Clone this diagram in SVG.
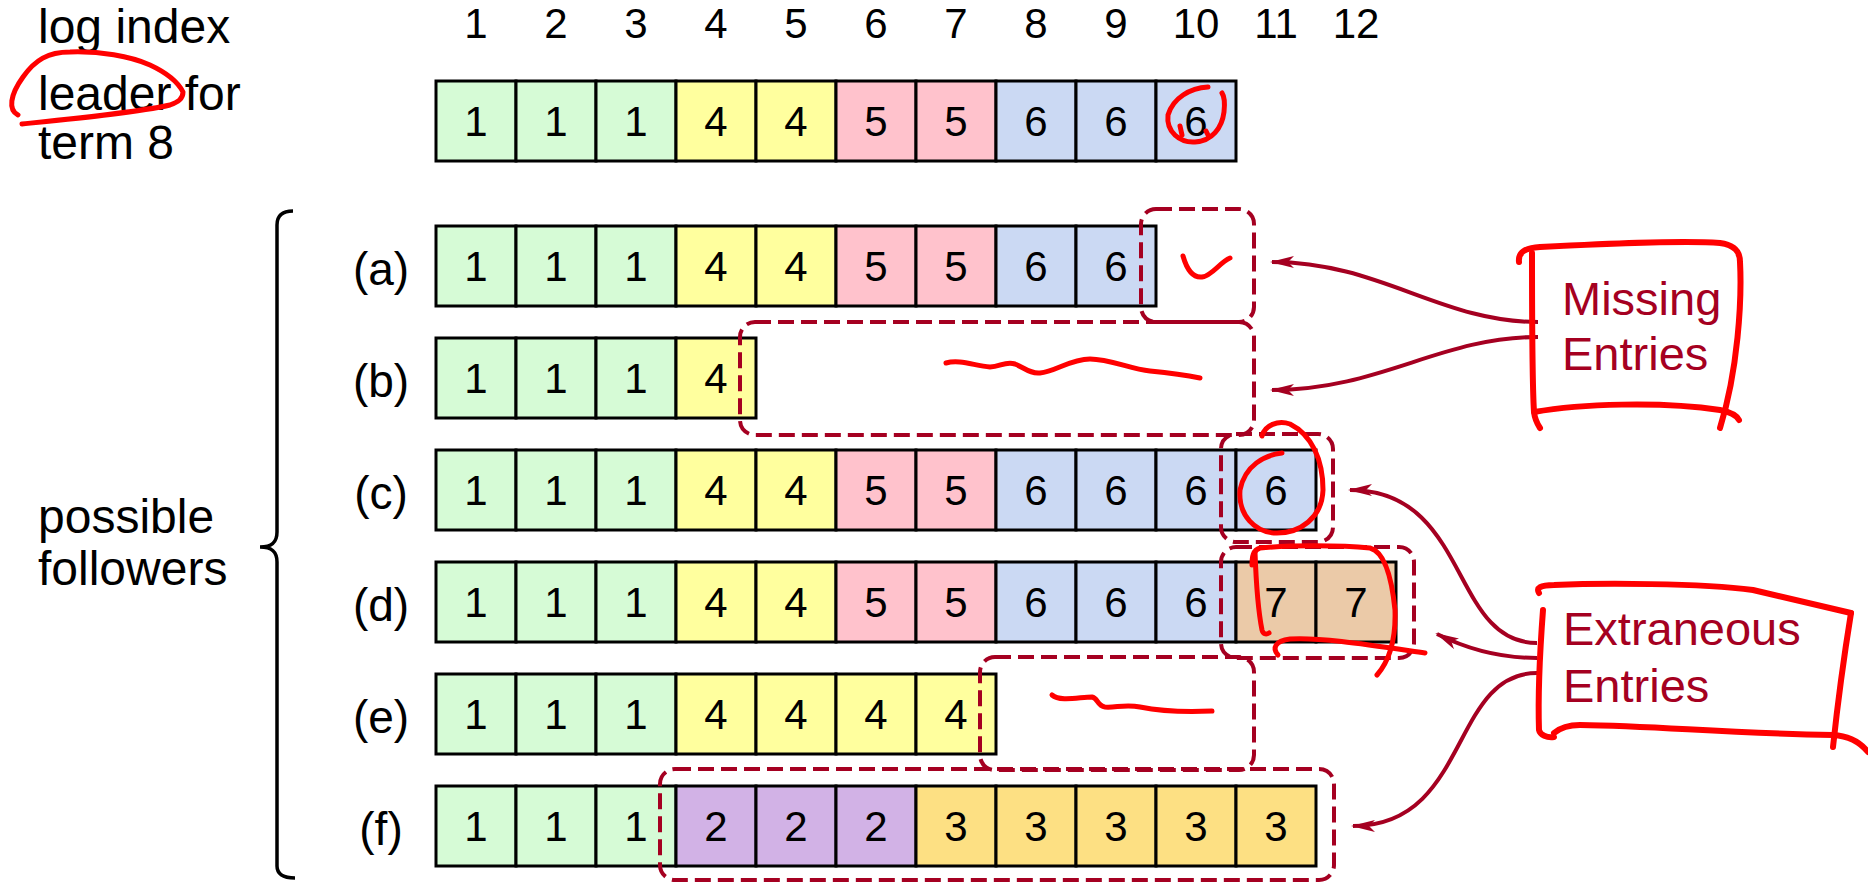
<svg xmlns="http://www.w3.org/2000/svg" width="1868" height="882" viewBox="0 0 1868 882">
<defs>
<style>
.c rect{stroke:#000;stroke-width:3}
.g{fill:#d6fbd6}.y{fill:#ffff9e}.p{fill:#ffc2cc}.b{fill:#cbd9f3}.o{fill:#ebcaa8}.v{fill:#d2b2e6}.k{fill:#fde083}
.n{font-family:"Liberation Sans",Arial,sans-serif;font-size:42px;fill:#000;text-anchor:middle}
.lab{font-family:"Liberation Sans",Arial,sans-serif;font-size:46px;fill:#000}
.big{font-size:48px}
.mid{text-anchor:middle}
.red{font-family:"Liberation Sans",Arial,sans-serif;font-size:47px;fill:#a50021}
.dash{fill:none;stroke:#a50021;stroke-width:4;stroke-dasharray:16 7}
.arr{fill:none;stroke:#a50021;stroke-width:4;marker-end:url(#ah)}
.ink{fill:none;stroke:#ff0000;stroke-width:5;stroke-linecap:round;stroke-linejoin:round}
.ink2{fill:none;stroke:#ff0000;stroke-width:6;stroke-linecap:round;stroke-linejoin:round}
</style>
<marker id="ah" viewBox="0 0 24 12" refX="22" refY="6" markerWidth="24" markerHeight="12" markerUnits="userSpaceOnUse" orient="auto">
<path d="M0,0 L24,6 L0,12 L6,6 z" fill="#a50021"/>
</marker>
</defs>
<rect width="1868" height="882" fill="#fff"/>

<g id="headers">
<text class="lab big" x="38" y="43">log index</text>
<text class="lab big" x="38" y="110">leader for</text>
<text class="lab big" x="38" y="159">term 8</text>
<text class="lab big" x="38" y="533">possible</text>
<text class="lab big" x="38" y="585">followers</text>
<g class="n">
<text x="476" y="38">1</text><text x="556" y="38">2</text><text x="636" y="38">3</text><text x="716" y="38">4</text><text x="796" y="38">5</text><text x="876" y="38">6</text><text x="956" y="38">7</text><text x="1036" y="38">8</text><text x="1116" y="38">9</text><text x="1196" y="38">10</text><text x="1276" y="38">11</text><text x="1356" y="38">12</text>
</g>
</g>

<g id="brace">
<path d="M293 211 C283 211 277 215 277 225 L277 532 C277 542 272 547 260 547 C272 547 277 552 277 562 L277 866 C277 874 283 878 295 878" fill="none" stroke="#000" stroke-width="3.5"/>
</g>

<g id="leader" class="c">
<rect class="g" x="436" y="81" width="80" height="80"/><rect class="g" x="516" y="81" width="80" height="80"/><rect class="g" x="596" y="81" width="80" height="80"/><rect class="y" x="676" y="81" width="80" height="80"/><rect class="y" x="756" y="81" width="80" height="80"/><rect class="p" x="836" y="81" width="80" height="80"/><rect class="p" x="916" y="81" width="80" height="80"/><rect class="b" x="996" y="81" width="80" height="80"/><rect class="b" x="1076" y="81" width="80" height="80"/><rect class="b" x="1156" y="81" width="80" height="80"/>
<g class="n"><text x="476" y="136">1</text><text x="556" y="136">1</text><text x="636" y="136">1</text><text x="716" y="136">4</text><text x="796" y="136">4</text><text x="876" y="136">5</text><text x="956" y="136">5</text><text x="1036" y="136">6</text><text x="1116" y="136">6</text><text x="1196" y="136">6</text></g>
</g>

<g id="row-a" class="c">
<text class="lab mid" x="381" y="285">(a)</text>
<rect class="g" x="436" y="226" width="80" height="80"/><rect class="g" x="516" y="226" width="80" height="80"/><rect class="g" x="596" y="226" width="80" height="80"/><rect class="y" x="676" y="226" width="80" height="80"/><rect class="y" x="756" y="226" width="80" height="80"/><rect class="p" x="836" y="226" width="80" height="80"/><rect class="p" x="916" y="226" width="80" height="80"/><rect class="b" x="996" y="226" width="80" height="80"/><rect class="b" x="1076" y="226" width="80" height="80"/>
<g class="n"><text x="476" y="281">1</text><text x="556" y="281">1</text><text x="636" y="281">1</text><text x="716" y="281">4</text><text x="796" y="281">4</text><text x="876" y="281">5</text><text x="956" y="281">5</text><text x="1036" y="281">6</text><text x="1116" y="281">6</text></g>
</g>

<g id="row-b" class="c">
<text class="lab mid" x="381" y="397">(b)</text>
<rect class="g" x="436" y="338" width="80" height="80"/><rect class="g" x="516" y="338" width="80" height="80"/><rect class="g" x="596" y="338" width="80" height="80"/><rect class="y" x="676" y="338" width="80" height="80"/>
<g class="n"><text x="476" y="393">1</text><text x="556" y="393">1</text><text x="636" y="393">1</text><text x="716" y="393">4</text></g>
</g>

<g id="row-c" class="c">
<text class="lab mid" x="381" y="509">(c)</text>
<rect class="g" x="436" y="450" width="80" height="80"/><rect class="g" x="516" y="450" width="80" height="80"/><rect class="g" x="596" y="450" width="80" height="80"/><rect class="y" x="676" y="450" width="80" height="80"/><rect class="y" x="756" y="450" width="80" height="80"/><rect class="p" x="836" y="450" width="80" height="80"/><rect class="p" x="916" y="450" width="80" height="80"/><rect class="b" x="996" y="450" width="80" height="80"/><rect class="b" x="1076" y="450" width="80" height="80"/><rect class="b" x="1156" y="450" width="80" height="80"/><rect class="b" x="1236" y="450" width="80" height="80"/>
<g class="n"><text x="476" y="505">1</text><text x="556" y="505">1</text><text x="636" y="505">1</text><text x="716" y="505">4</text><text x="796" y="505">4</text><text x="876" y="505">5</text><text x="956" y="505">5</text><text x="1036" y="505">6</text><text x="1116" y="505">6</text><text x="1196" y="505">6</text><text x="1276" y="505">6</text></g>
</g>

<g id="row-d" class="c">
<text class="lab mid" x="381" y="621">(d)</text>
<rect class="g" x="436" y="562" width="80" height="80"/><rect class="g" x="516" y="562" width="80" height="80"/><rect class="g" x="596" y="562" width="80" height="80"/><rect class="y" x="676" y="562" width="80" height="80"/><rect class="y" x="756" y="562" width="80" height="80"/><rect class="p" x="836" y="562" width="80" height="80"/><rect class="p" x="916" y="562" width="80" height="80"/><rect class="b" x="996" y="562" width="80" height="80"/><rect class="b" x="1076" y="562" width="80" height="80"/><rect class="b" x="1156" y="562" width="80" height="80"/><rect class="o" x="1236" y="562" width="80" height="80"/><rect class="o" x="1316" y="562" width="80" height="80"/>
<g class="n"><text x="476" y="617">1</text><text x="556" y="617">1</text><text x="636" y="617">1</text><text x="716" y="617">4</text><text x="796" y="617">4</text><text x="876" y="617">5</text><text x="956" y="617">5</text><text x="1036" y="617">6</text><text x="1116" y="617">6</text><text x="1196" y="617">6</text><text x="1276" y="617">7</text><text x="1356" y="617">7</text></g>
</g>

<g id="row-e" class="c">
<text class="lab mid" x="381" y="733">(e)</text>
<rect class="g" x="436" y="674" width="80" height="80"/><rect class="g" x="516" y="674" width="80" height="80"/><rect class="g" x="596" y="674" width="80" height="80"/><rect class="y" x="676" y="674" width="80" height="80"/><rect class="y" x="756" y="674" width="80" height="80"/><rect class="y" x="836" y="674" width="80" height="80"/><rect class="y" x="916" y="674" width="80" height="80"/>
<g class="n"><text x="476" y="729">1</text><text x="556" y="729">1</text><text x="636" y="729">1</text><text x="716" y="729">4</text><text x="796" y="729">4</text><text x="876" y="729">4</text><text x="956" y="729">4</text></g>
</g>

<g id="row-f" class="c">
<text class="lab mid" x="381" y="845">(f)</text>
<rect class="g" x="436" y="786" width="80" height="80"/><rect class="g" x="516" y="786" width="80" height="80"/><rect class="g" x="596" y="786" width="80" height="80"/><rect class="v" x="676" y="786" width="80" height="80"/><rect class="v" x="756" y="786" width="80" height="80"/><rect class="v" x="836" y="786" width="80" height="80"/><rect class="k" x="916" y="786" width="80" height="80"/><rect class="k" x="996" y="786" width="80" height="80"/><rect class="k" x="1076" y="786" width="80" height="80"/><rect class="k" x="1156" y="786" width="80" height="80"/><rect class="k" x="1236" y="786" width="80" height="80"/>
<g class="n"><text x="476" y="841">1</text><text x="556" y="841">1</text><text x="636" y="841">1</text><text x="716" y="841">2</text><text x="796" y="841">2</text><text x="876" y="841">2</text><text x="956" y="841">3</text><text x="1036" y="841">3</text><text x="1116" y="841">3</text><text x="1196" y="841">3</text><text x="1276" y="841">3</text></g>
</g>

<g id="dashed-groups">
<rect class="dash" x="1141" y="209" width="113" height="113" rx="15"/>
<rect class="dash" x="740" y="322" width="514" height="113" rx="15"/>
<rect class="dash" x="1221" y="434" width="112" height="108" rx="15"/>
<rect class="dash" x="1221" y="547" width="193" height="111" rx="15"/>
<rect class="dash" x="980" y="657" width="274" height="113" rx="15"/>
<rect class="dash" x="660" y="769" width="674" height="111" rx="15"/>
</g>

<g id="missing-entries">
<text class="red" x="1562" y="315">Missing</text>
<text class="red" x="1562" y="370">Entries</text>
</g>

<g id="extraneous-entries">
<text class="red" x="1563" y="645">Extraneous</text>
<text class="red" x="1563" y="702">Entries</text>
</g>

<g id="connectors">
<path class="arr" d="M1538 322 C1440 322 1380 262 1272 262"/>
<path class="arr" d="M1538 337 C1440 337 1380 390 1272 390"/>
<path class="arr" d="M1537 643 C1450 643 1470 490 1350 490"/>
<path class="arr" d="M1537 658 C1500 658 1465 648 1437 634"/>
<path class="arr" d="M1537 673 C1450 673 1470 826 1353 826"/>
</g>

<g id="annotations">
<path class="ink" d="M18 115 C8 110 10 95 23 77 C35 60 48 52 70 52 C100 51 130 56 150 65 C165 72 178 82 183 92 C183 99 178 102 170 105 C140 112 80 118 22 124"/>
<path class="ink" d="M1208 87 C1190 88 1173 98 1168 115 C1166 132 1180 143 1195 142 C1212 141 1222 128 1224 112 C1225 103 1224 96 1222 93 M1180 126 L1182 135 M1206 131 L1208 135"/>
<path class="ink" d="M1183 256 C1187 270 1193 278 1202 277 C1212 276 1220 262 1230 258"/>
<path class="ink" d="M946 363 C960 359 975 366 990 367 C1000 367 1005 361 1015 364 C1025 368 1030 374 1040 373 C1055 372 1070 359 1090 359 C1110 359 1130 369 1150 371 C1170 373 1185 375 1200 378"/>
<path class="ink" d="M1282 453 C1265 455 1245 465 1240 490 C1238 515 1255 533 1277 533 C1300 533 1322 518 1323 490 C1323 460 1312 435 1290 424 C1278 420 1265 425 1262 436"/>
<path class="ink" d="M1252 565 C1252 557 1253 550 1260 548 C1290 545 1340 545 1370 548 C1385 552 1392 580 1395 610 C1396 640 1390 660 1377 675"/>
<path class="ink" d="M1255 552 C1256 580 1258 610 1262 630 C1263 634 1266 635 1269 633"/>
<path class="ink" d="M1278 655 C1272 648 1275 641 1290 639 C1320 637 1370 645 1425 653"/>
<path class="ink" d="M1052 695 C1060 702 1080 697 1092 697 C1098 698 1097 706 1105 707 C1115 708 1125 704 1140 707 C1160 711 1190 712 1212 711"/>
<path class="ink2" d="M1519 262 C1518 252 1525 248 1540 247 C1600 244 1680 240 1720 243 C1735 245 1740 252 1740 262 C1742 300 1738 370 1720 428"/>
<path class="ink2" d="M1532 253 C1532 300 1532 380 1534 412 C1535 420 1538 425 1540 428"/>
<path class="ink2" d="M1534 412 C1580 404 1660 401 1720 410 C1730 412 1737 416 1739 420"/>
<path class="ink2" d="M1539 593 C1536 588 1540 585 1554 585 C1600 583 1700 583 1753 590 L1851 613"/>
<path class="ink2" d="M1851 613 C1845 650 1838 700 1833 747"/>
<path class="ink2" d="M1543 610 C1540 650 1538 700 1539 730 C1540 735 1547 738 1554 737"/>
<path class="ink2" d="M1554 733 C1560 728 1568 725 1580 725 C1660 726 1720 733 1833 735 C1850 736 1860 742 1868 752"/>
</g>
</svg>
